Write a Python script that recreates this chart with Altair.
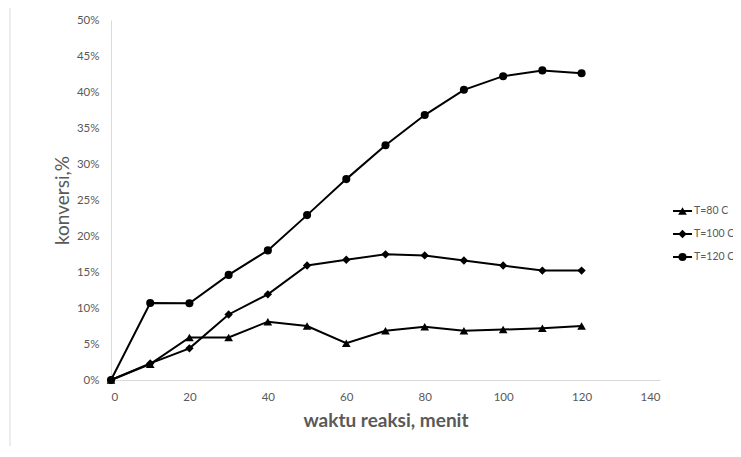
import altair as alt
import pandas as pd

# ---- data ----
waktu = [0, 10, 20, 30, 40, 50, 60, 70, 80, 90, 100, 110, 120]
t80 = [0, 2.2, 5.9, 5.9, 8.1, 7.5, 5.1, 6.85, 7.4, 6.85, 7.0, 7.2, 7.5]
t100 = [0, 2.3, 4.4, 9.1, 11.9, 15.9, 16.7, 17.45, 17.3, 16.6, 15.9, 15.2, 15.2]
t120 = [0, 10.7, 10.65, 14.6, 18.0, 22.9, 27.9, 32.6, 36.8, 40.3, 42.2, 43.0, 42.6]
series_names = ["T=80 C", "T=100 C", "T=120 C"]
shapes = ["triangle-up", "diamond", "circle"]
sizes = [75, 65, 190]
x_ticks = [0, 20, 40, 60, 80, 100, 120, 140]
y_ticks = [0, 5, 10, 15, 20, 25, 30, 35, 40, 45, 50]

rows = []
for name, vals in zip(series_names, [t80, t100, t120]):
    for w, v in zip(waktu, vals):
        rows.append({"waktu": w, "konversi": v, "seri": name})
df = pd.DataFrame(rows)

leg_rows = []
for i, name in enumerate(series_names):
    for lx in [0, 0.5, 1]:
        leg_rows.append({"lx": lx, "ly": i, "seri": name})
leg = pd.DataFrame(leg_rows)

GRAY = "#595959"
AXIS = "#d9d9d9"
FONT = "Lato"

W, H = 549, 360

x_enc = alt.X("waktu:Q", scale=alt.Scale(domain=[0, 140], nice=False),
              axis=alt.Axis(values=x_ticks, title="waktu reaksi, menit", grid=False, ticks=False,
                            domainColor=AXIS, labelColor=GRAY, labelFontSize=11.5, labelFont=FONT,
                            labelPadding=11, labelOverlap=False,
                            titleFont=FONT, titleFontSize=19, titleFontWeight="bold",
                            titleColor=GRAY, titleX=W / 2, titleY=40, titleBaseline="middle",
                            titleAlign="center"))
y_enc = alt.Y("konversi:Q", scale=alt.Scale(domain=[0, 50], nice=False),
              axis=alt.Axis(values=y_ticks, title="konversi,%", grid=False, ticks=False,
                            domainColor=AXIS, labelColor=GRAY, labelFontSize=11.5, labelFont=FONT,
                            labelPadding=12, labelExpr="datum.value + '%'", labelOverlap=False,
                            titleFont=FONT, titleFontSize=19, titleFontWeight="normal",
                            titleColor=GRAY, titleX=-49, titleY=H / 2, titleAngle=270,
                            titleBaseline="middle", titleAlign="center"))

shape_scale = alt.Scale(domain=series_names, range=shapes)
size_scale = alt.Scale(domain=series_names, range=sizes)

lines = alt.Chart(df).mark_line(color="black", strokeWidth=2).encode(
    x=x_enc, y=y_enc, detail="seri:N")
points = alt.Chart(df).mark_point(filled=True, color="black", opacity=1).encode(
    x=x_enc, y=y_enc,
    shape=alt.Shape("seri:N", scale=shape_scale, legend=None),
    size=alt.Size("seri:O", scale=size_scale, legend=None))

main = alt.layer(lines, points)

# ---- manual legend with its own scales ----
lx_scale = alt.Scale(domain=[0, 1], range=[562, 581])
ly_scale = alt.Scale(domain=[0, 2], range=[191, 237])
leg_line = alt.Chart(leg).transform_filter("datum.lx != 0.5").mark_line(color="black", strokeWidth=2).encode(
    x=alt.X("lx:Q", scale=lx_scale, axis=None),
    y=alt.Y("ly:Q", scale=ly_scale, axis=None),
    detail="seri:N")
leg_pts = alt.Chart(leg).transform_filter("datum.lx == 0.5").mark_point(filled=True, color="black", opacity=1).encode(
    x=alt.X("lx:Q", scale=lx_scale, axis=None),
    y=alt.Y("ly:Q", scale=ly_scale, axis=None),
    shape=alt.Shape("seri:N", scale=shape_scale, legend=None),
    size=alt.Size("seri:O", scale=size_scale, legend=None))
leg_txt = alt.Chart(leg).transform_filter("datum.lx == 1").mark_text(
    align="left", baseline="middle", dx=2, font=FONT, fontSize=10.5, color=GRAY).encode(
    x=alt.X("lx:Q", scale=lx_scale, axis=None),
    y=alt.Y("ly:Q", scale=ly_scale, axis=None),
    text="seri:N")
legend = alt.layer(leg_line, leg_pts, leg_txt)

# ---- outer chart border ----
border = alt.Chart(pd.DataFrame({"a": [0]})).mark_rect(
    fill=None, stroke=AXIS, strokeWidth=1).encode(
    x=alt.value(-101), x2=alt.value(700), y=alt.value(-13), y2=alt.value(480))

chart = alt.layer(border, main, legend).resolve_scale(
    x="independent", y="independent", shape="shared", size="shared"
).properties(
    width=W, height=H,
    padding={"left": 103, "top": 12, "right": 73, "bottom": 66},
    autosize=alt.AutoSizeParams(type="none"),
    background="white",
).configure_view(stroke=None)

chart.save("out.html", embed_options={"renderer": "svg", "actions": False})
